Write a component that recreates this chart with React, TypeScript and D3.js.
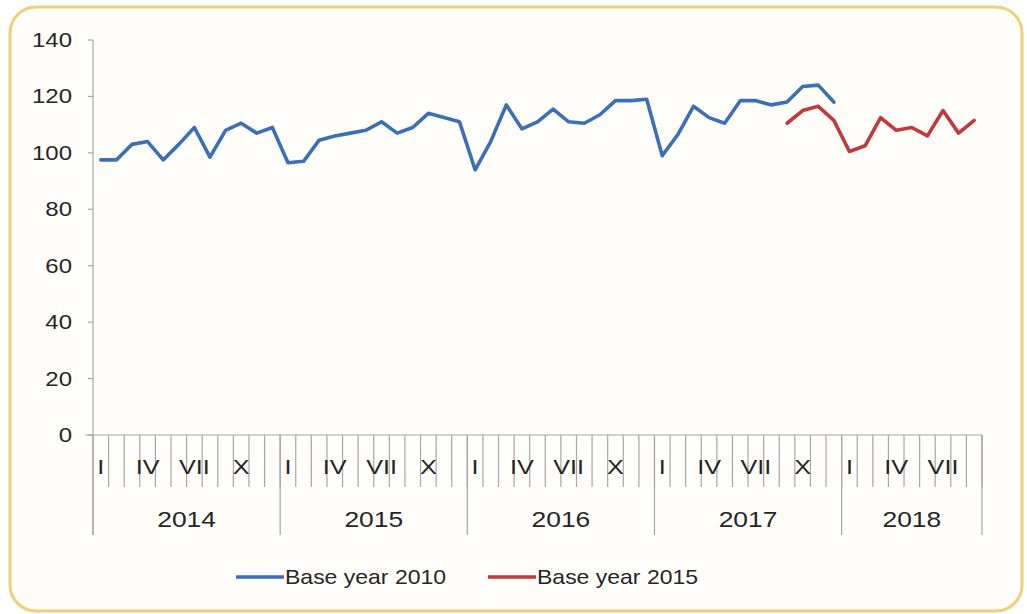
import React from "react";
import * as d3 from "d3";

// months 2014-I .. 2018-IX
const years = ["2014", "2015", "2016", "2017", "2018"];
const monthsPerYear = [12, 12, 12, 12, 9];
const romanLabels = ["I", "", "", "IV", "", "", "VII", "", "", "X", "", ""];
const yTicks = [0, 20, 40, 60, 80, 100, 120, 140];

const base2010: (number | null)[] = [
  97.5, 97.5, 103, 104, 97.5, 103, 109, 98.5, 108, 110.5, 107, 109,
  96.5, 97, 104.5, 106, 107, 108, 111, 107, 109, 114, 112.5, 111,
  94, 104, 117, 108.5, 111, 115.5, 111, 110.5, 113.5, 118.5, 118.5, 119,
  99, 106.5, 116.5, 112.5, 110.5, 118.5, 118.5, 117, 118, 123.5, 124, 118,
  null, null, null, null, null, null, null, null, null,
];
const base2015: (number | null)[] = [
  ...Array(44).fill(null),
  110.5, 115, 116.5, 111.5,
  100.5, 102.5, 112.5, 108, 109, 106, 115, 107, 111.5,
];

const series = [
  { name: "Base year 2010", values: base2010, color: "#3b6fb6" },
  { name: "Base year 2015", values: base2015, color: "#c0393b" },
];

const font = "Arial, 'Liberation Sans', sans-serif";

// text is a bit wider in the source picture, so stretch it horizontally
function Label(props: { x: number; y: number; size: number; anchor?: string; sx?: number; children: React.ReactNode }) {
  const { x, y, size, anchor = "middle", sx = 1.2, children } = props;
  return (
    <text
      transform={`translate(${x},${y}) scale(${sx},1)`}
      dy="0.35em"
      textAnchor={anchor}
      fontFamily={font}
      fontSize={size}
      fill="#262626"
    >
      {children}
    </text>
  );
}

export default function App() {
  const width = 1027;
  const height = 614;
  const left = 93;
  const right = 982;
  const top = 40;
  const bottom = 435;
  const axisColor = "#a6a6a6";

  const cats: string[] = [];
  years.forEach((yr, yi) => {
    for (let m = 0; m < monthsPerYear[yi]; m++) cats.push(`${yr}-${m}`);
  });

  const x = d3.scaleBand<string>().domain(cats).range([left, right]).padding(0);
  const y = d3.scaleLinear().domain([0, 140]).range([bottom, top]);
  const bw = x.bandwidth();

  const line = d3
    .line<number | null>()
    .defined((d) => d != null)
    .x((_, i) => (x(cats[i]) as number) + bw / 2)
    .y((d) => y(d as number));

  // year boundaries
  const yearStarts: number[] = [];
  let idx = 0;
  years.forEach((_, yi) => {
    yearStarts.push(x(cats[idx]) as number);
    idx += monthsPerYear[yi];
  });
  yearStarts.push(right);

  return (
    <div style={{ position: "absolute", left: 0, top: 0 }}>
      <svg width={width} height={height} style={{ display: "block", background: "#fff" }}>
        <rect x={10} y={7} width={1012} height={604} rx={26} ry={26} fill="#fffefb" stroke="#f0cf78" strokeWidth={3} />

        {/* y axis */}
        <line x1={left} x2={left} y1={top} y2={535} stroke={axisColor} strokeWidth={1.2} />
        {yTicks.map((t) => (
          <g key={t}>
            <line x1={left - 5} x2={left} y1={y(t)} y2={y(t)} stroke={axisColor} strokeWidth={1.2} />
            <Label x={72} y={y(t)} size={20} anchor="end">
              {t}
            </Label>
          </g>
        ))}

        {/* x axis */}
        <line x1={left - 8} x2={right} y1={bottom} y2={bottom} stroke={axisColor} strokeWidth={1.2} />
        {cats.map((c) => (
          <line key={c} x1={(x(c) as number) + bw} x2={(x(c) as number) + bw} y1={bottom} y2={487} stroke={axisColor} strokeWidth={1.2} />
        ))}
        {yearStarts.map((xs, i) => (
          <line key={"ys" + i} x1={xs} x2={xs} y1={bottom} y2={535} stroke={axisColor} strokeWidth={1.2} />
        ))}
        {cats.map((c) => {
          const lab = romanLabels[+c.split("-")[1]];
          if (!lab) return null;
          return (
            <Label key={"l" + c} x={(x(c) as number) + bw / 2} y={467} size={21}>
              {lab}
            </Label>
          );
        })}
        {years.map((yr, yi) => (
          <Label key={yr} x={(yearStarts[yi] + yearStarts[yi + 1]) / 2} y={519} size={22}>
            {yr}
          </Label>
        ))}

        {/* series */}
        {series.map((s) => (
          <path key={s.name} d={line(s.values) || ""} fill="none" stroke={s.color} strokeWidth={3.6} strokeLinejoin="round" strokeLinecap="round" />
        ))}

        {/* legend */}
        {series.map((s, i) => {
          const lx = 236 + i * 252;
          return (
            <g key={"lg" + s.name}>
              <line x1={lx} x2={lx + 48} y1={577} y2={577} stroke={s.color} strokeWidth={3.6} />
              <Label x={lx + 49} y={577} size={20} anchor="start" sx={1.15}>
                {s.name}
              </Label>
            </g>
          );
        })}
      </svg>
    </div>
  );
}
